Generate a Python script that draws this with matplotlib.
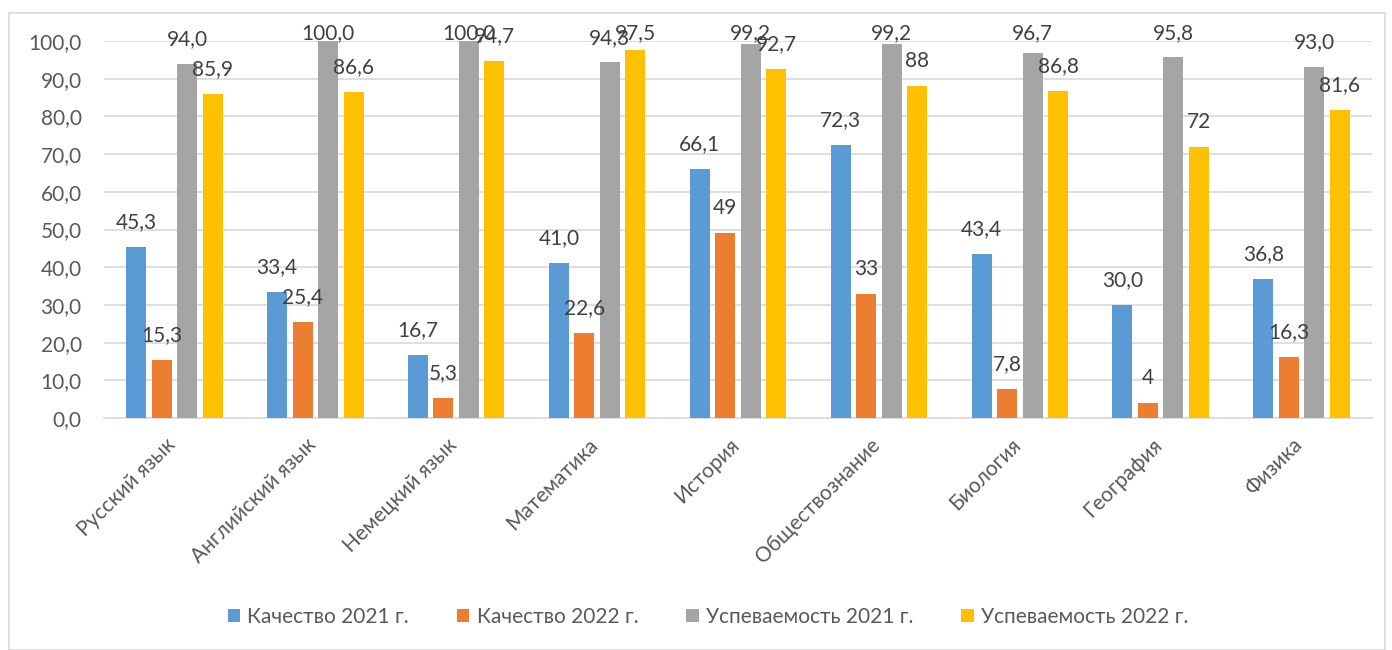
import numpy as np
from matplotlib import pyplot as plt
from matplotlib.patches import Rectangle
from matplotlib.transforms import ScaledTranslation

plt.rcParams['font.family'] = ['Lato', 'DejaVu Sans']

subjects = ["Русский язык", "Английский язык", "Немецкий язык", "Математика",
            "История", "Обществознание", "Биология", "География", "Физика"]
series_names = ["Качество 2021 г.", "Качество 2022 г.",
                "Успеваемость 2021 г.", "Успеваемость 2022 г."]
quality_2021 = [45.3, 33.4, 16.7, 41.0, 66.1, 72.3, 43.4, 30.0, 36.8]
quality_2022 = [15.3, 25.4, 5.3, 22.6, 49, 33, 7.8, 4, 16.3]
success_2021 = [94.0, 100.0, 100.0, 94.3, 99.2, 99.2, 96.7, 95.8, 93.0]
success_2022 = [85.9, 86.6, 94.7, 97.5, 92.7, 88, 86.8, 72, 81.6]
colors = ["#5B9BD5", "#ED7D31", "#A5A5A5", "#FFC000"]


def fmt(v):
    # integers in the source are shown without decimals
    if isinstance(v, int):
        return str(v)
    return f"{v:.1f}".replace(".", ",")


fig = plt.figure(figsize=(13.92, 6.5), dpi=100)
ax = fig.add_axes([104 / 1392, 1 - 418 / 650, (1372 - 104) / 1392, (418 - 41) / 650])

# chart border
fig.patches.append(Rectangle((9 / 1392, 0), (1385 - 9) / 1392, 1 - 13 / 650,
                             transform=fig.transFigure, fill=False,
                             edgecolor="#d9d9d9", linewidth=1.2))

x = np.arange(len(subjects))
step = 25.5 / 140.9
width = 20 / 140.9
all_series = [quality_2021, quality_2022, success_2021, success_2022]
for i, (vals, name, c) in enumerate(zip(all_series, series_names, colors)):
    pos = x + (i - 1.5) * step
    ax.bar(pos, vals, width=width, color=c, label=name, zorder=3)
    for px, v in zip(pos, vals):
        ly = min(v + 6.6, 102.1)
        ax.text(px, ly, fmt(v), ha="center", va="center", fontsize=15,
                color="#404040", clip_on=False, zorder=4)

ax.set_xlim(-0.5, len(subjects) - 0.5)
ax.set_ylim(0, 100)
ax.set_yticks(np.arange(0, 101, 10))
ax.set_yticklabels([f"{t:.1f}".replace(".", ",") for t in np.arange(0, 101, 10)])
ax.set_xticks(x)
ax.set_xticklabels(subjects, rotation=45, ha="right", rotation_mode="anchor")
ax.tick_params(axis="both", length=0, labelsize=15, labelcolor="#595959")
ax.tick_params(axis="x", pad=12)
ax.tick_params(axis="y", pad=16)
shift = ScaledTranslation(-9 / 100, 0, fig.dpi_scale_trans)
for lab in ax.get_xticklabels():
    lab.set_transform(lab.get_transform() + shift)
ax.grid(axis="y", color="#d9d9d9", linewidth=1.2, zorder=0)
for s in ["top", "right", "left"]:
    ax.spines[s].set_visible(False)
ax.spines["bottom"].set_color("#d9d9d9")
ax.spines["bottom"].set_linewidth(1.2)

fig.legend(loc="center", bbox_to_anchor=(708 / 1392, 1 - 617 / 650), ncol=4,
           frameon=False, fontsize=15, labelcolor="#595959",
           handlelength=0.6, handleheight=0.6, handletextpad=0.35, columnspacing=2.3)

fig.savefig("out.png", dpi=100)
